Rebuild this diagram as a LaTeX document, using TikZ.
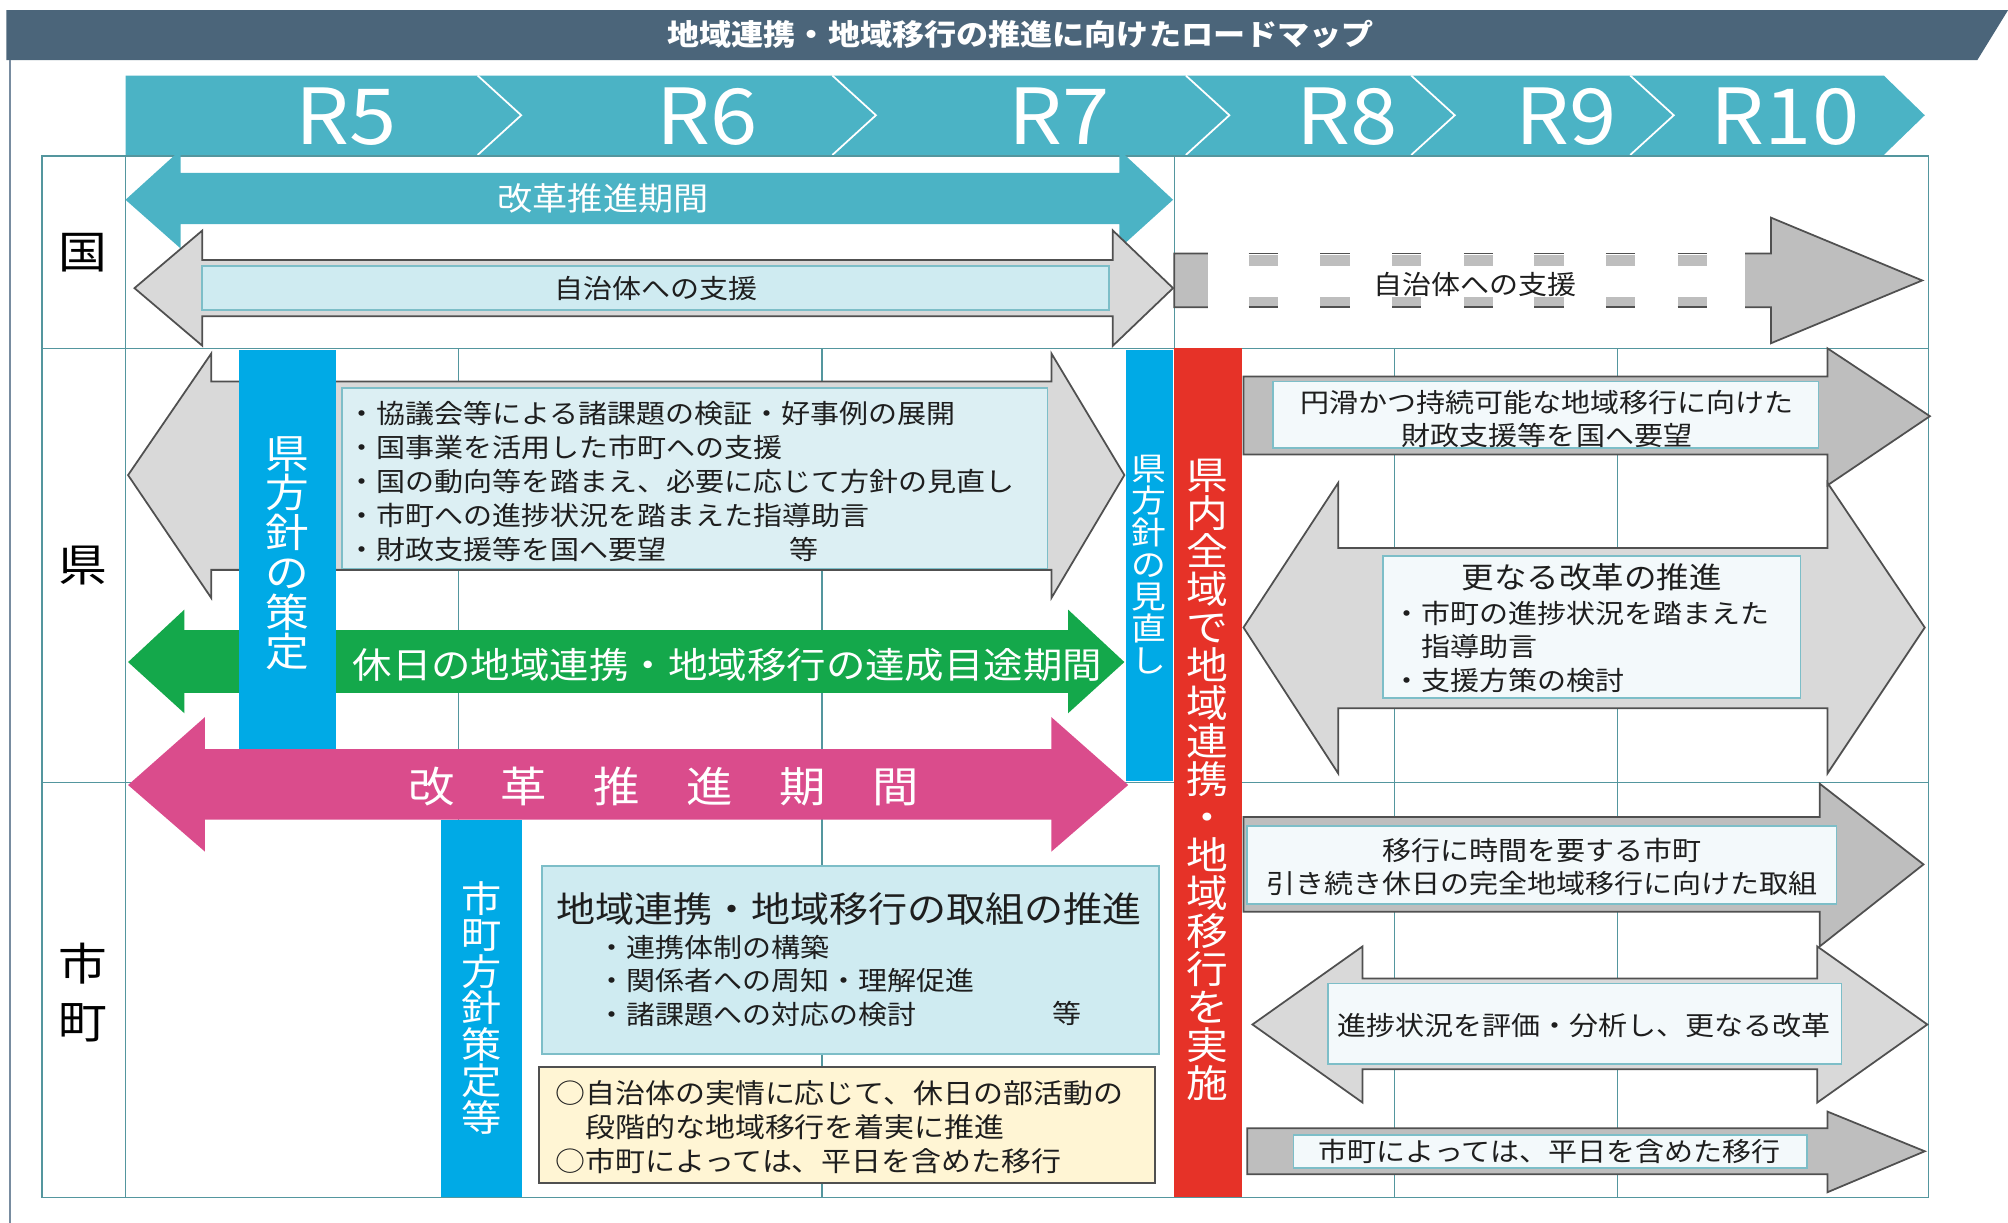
\documentclass[tikz,border=0pt]{standalone}
\usepackage{fontspec}
\setmainfont{Noto Sans CJK JP}[FakeStretch=1.1]
\usepackage{tikz}
\usetikzlibrary{positioning}

\definecolor{headc}{RGB}{75,101,122}
\definecolor{framec}{RGB}{120,140,160}
\definecolor{tealc}{RGB}{75,179,197}
\definecolor{gridc}{RGB}{84,150,158}
\definecolor{barblue}{RGB}{0,170,230}
\definecolor{barred}{RGB}{230,50,40}
\definecolor{arrgreen}{RGB}{20,168,75}
\definecolor{arrpink}{RGB}{218,76,140}
\definecolor{lgray}{RGB}{217,217,217}
\definecolor{mgray}{RGB}{190,190,190}
\definecolor{dgray}{RGB}{80,80,80}
\definecolor{boxblue}{RGB}{207,235,241}
\definecolor{boxblue2}{RGB}{220,239,243}
\definecolor{boxpale}{RGB}{243,249,251}
\definecolor{boxyellow}{RGB}{255,245,212}
\definecolor{boxline}{RGB}{125,190,200}
\definecolor{inkc}{RGB}{30,30,30}

\tikzstyle{gridline} = [draw=gridc, line width=0.45pt]
\tikzstyle{lightarrow} = [fill=lgray, draw=dgray, line width=0.5pt]
\tikzstyle{darkarrow} = [fill=mgray, draw=dgray, line width=0.5pt]
\tikzstyle{bluebox} = [fill=boxblue, draw=boxline, line width=0.5pt]
\tikzstyle{palebox} = [fill=boxpale, draw=boxline, line width=0.5pt]
\tikzstyle{yellowbox} = [fill=boxyellow, draw=dgray, line width=0.6pt]
\tikzstyle{bodytext} = [inner sep=0pt, text=inkc, font=\fontsize{7.5}{9.5}\selectfont]
\tikzstyle{whitetext} = [inner sep=0pt, text=white]
\tikzstyle{vlabel} = [inner sep=0pt, text=white, align=center]
\tikzstyle{yearlabel} = [inner sep=0pt, text=white, font=\fontsize{22}{22}\selectfont]
\tikzstyle{rowlabel} = [inner sep=0pt, text=black, font=\fontsize{12.6}{16.4}\selectfont]

\begin{document}
\begin{tikzpicture}[x=0.012806cm, y=-0.012806cm]

    \useasboundingbox (0,0) rectangle (1568,955);

    \fill [headc] (5,8) -- (1568,8) -- (1544,47) -- (5,47) -- cycle;
    \draw [framec, line width=0.5pt] (8,47) -- (8,955);
    \node (title) [whitetext, font=\fontsize{8.3}{10}\selectfont\bfseries] at (797,27) {地域連携・地域移行の推進に向けたロードマップ};

    \fill [tealc] (98,59) -- (1471,59) -- (1503,90) -- (1471,121) -- (98,121) -- cycle;
    \foreach \cx in {373,650,926,1102,1273}
        \draw [white, line width=0.5pt] (\cx,59) -- (\cx+34,90) -- (\cx,121);
    \node (r5) [yearlabel] at (270,91) {R5};
    \node (r6) [yearlabel] at (552,91) {R6};
    \node (r7) [yearlabel] at (827,91) {R7};
    \node (r8) [yearlabel] at (1052,91) {R8};
    \node (r9) [yearlabel] at (1223,91) {R9};
    \node (r10) [yearlabel] at (1394,91) {R10};

    \draw [gridline] (33,122) rectangle (1506,935);
    \draw [gridline] (33,272) -- (1506,272) (33,611) -- (1506,611);
    \draw [gridline] (98,122) -- (98,935) (917,122) -- (917,272);
    \foreach \gx in {358,642,1089,1263}
        \draw [gridline] (\gx,272) -- (\gx,935);

    \node (kuni) [rowlabel] at (65,197) {国};
    \node (ken) [rowlabel] at (65,442) {県};
    \node (shicho) [rowlabel, align=center] at (65,775) {市\\町};

    \fill [tealc] (98,156) -- (141,117) -- (141,135) -- (874,135) -- (874,117) -- (916,156) -- (874,194) -- (874,175) -- (141,175) -- (141,194) -- cycle;
    \node (kaikaku1) [whitetext, font=\fontsize{9.1}{10}\selectfont] at (471,155) {改革推進期間};

    \draw [lightarrow] (105,225) -- (158,180) -- (158,203) -- (869,203) -- (869,180) -- (916,225) -- (869,270) -- (869,247) -- (158,247) -- (158,270) -- cycle;
    \draw [bluebox] (158,208) rectangle (866,242);
    \node (shien1) [bodytext] at (512,225) {自治体への支援};

    \draw [darkarrow] (917,198) -- (1383,198) -- (1383,170) -- (1501,219) -- (1383,268) -- (1383,240) -- (917,240) -- cycle;
    \fill [white] (943,196) rectangle (1363,242);
    \foreach \dx in {975,1031,1087,1143,1198,1254,1310} {
        \fill [mgray] (\dx,199) rectangle (\dx+23,208);
        \fill [mgray] (\dx,232) rectangle (\dx+23,239.5);
        \draw [dgray, line width=0.5pt] (\dx,198) -- (\dx+23,198) (\dx,240) -- (\dx+23,240);
    }
    \node (shien2) [bodytext] at (1152,222) {自治体への支援};

    \draw [lightarrow] (100,371) -- (165,276) -- (165,298) -- (821,298) -- (821,276) -- (878,371) -- (821,467) -- (821,445) -- (165,445) -- (165,467) -- cycle;
    \draw [bluebox, fill=boxblue2] (267,303) rectangle (818,444);
    \node (kenlist) [bodytext, align=left, anchor=west, font=\fontsize{7.5}{9.7}\selectfont] at (271,376) {・協議会等による諸課題の検証・好事例の展開\\・国事業を活用した市町への支援\\・国の動向等を踏まえ、必要に応じて方針の見直し\\・市町への進捗状況を踏まえた指導助言\\・財政支援等を国へ要望};
    \node (kenetc) [bodytext] at (628,429) {等};

    \fill [arrgreen] (100,517) -- (144,476) -- (144,492) -- (834,492) -- (834,476) -- (878,517) -- (834,557) -- (834,541) -- (144,541) -- (144,557) -- cycle;
    \node (tasseikikan) [whitetext, font=\fontsize{10.2}{11}\selectfont] at (568,519) {休日の地域連携・地域移行の達成目途期間};

    \fill [arrpink] (100,613) -- (160,560) -- (160,585) -- (821,585) -- (821,560) -- (881,613) -- (821,665) -- (821,640) -- (160,640) -- (160,665) -- cycle;
    \node (kaikaku2) [whitetext, font=\fontsize{12}{13}\selectfont] at (518,614) {改　革　推　進　期　間};

    \fill [barblue] (187,273) rectangle (262,585);
    \node (kenhoshin) [vlabel, font=\fontsize{11.3}{11.3}\selectfont] at (224,432) {県\\方\\針\\の\\策\\定};
    \fill [barblue] (879,273) rectangle (916,610);
    \node (minaoshi) [vlabel, font=\fontsize{9}{9.07}\selectfont] at (897,441) {県\\方\\針\\の\\見\\直\\し};
    \fill [barred] (917,272) rectangle (970,935);
    \node (zeniki) [vlabel, font=\fontsize{10.8}{10.8}\selectfont] at (943,609) {県\\内\\全\\域\\で\\地\\域\\連\\携\\・\\地\\域\\移\\行\\を\\実\\施};
    \fill [barblue] (344,640) rectangle (408,935);
    \node (chohoshin) [vlabel, font=\fontsize{10.4}{10.4}\selectfont] at (376,787) {市\\町\\方\\針\\策\\定\\等};

    \draw [darkarrow] (971,294) -- (1427,294) -- (1427,272) -- (1507,325) -- (1427,379) -- (1427,355) -- (971,355) -- cycle;
    \draw [palebox] (994,298) rectangle (1420,350);
    \node (zaisei) [bodytext, align=center] at (1208,327) {円滑かつ持続可能な地域移行に向けた\\財政支援等を国へ要望};

    \draw [lightarrow] (971,490) -- (1045,377) -- (1045,428) -- (1427,428) -- (1427,377) -- (1503,490) -- (1427,604) -- (1427,553) -- (1045,553) -- (1045,604) -- cycle;
    \draw [palebox] (1080,434) rectangle (1406,545);
    \node (reformtitle) [bodytext, font=\fontsize{8.4}{9.5}\selectfont] at (1243,451) {更なる改革の推進};
    \node (reformlist) [bodytext, align=left, anchor=west] at (1087,505) {・市町の進捗状況を踏まえた\\　指導助言\\・支援方策の検討};

    \draw [bluebox] (423,676) rectangle (905,823);
    \node (kumititle) [bodytext, font=\fontsize{10.1}{12}\selectfont] at (663,710) {地域連携・地域移行の取組の推進};
    \node (kumilist) [bodytext, align=left, anchor=west] at (466,766) {・連携体制の構築\\・関係者への周知・理解促進\\・諸課題への対応の検討};
    \node (kumietc) [bodytext] at (833,791) {等};

    \draw [yellowbox] (421,833) rectangle (902,924);
    \node (jissai) [bodytext, align=left, anchor=west, font=\fontsize{7.75}{9.65}\selectfont] at (433,880) {○自治体の実情に応じて、休日の部活動の\\　段階的な地域移行を着実に推進\\○市町によっては、平日を含めた移行};

    \draw [darkarrow] (971,638) -- (1421,638) -- (1421,612) -- (1502,675) -- (1421,739) -- (1421,712) -- (971,712) -- cycle;
    \draw [palebox] (974,645) rectangle (1434,706);
    \node (jikan) [bodytext, align=center] at (1204,677) {移行に時間を要する市町\\引き続き休日の完全地域移行に向けた取組};

    \draw [lightarrow] (978,800) -- (1064,739) -- (1064,764) -- (1419,764) -- (1419,739) -- (1505,800) -- (1419,861) -- (1419,835) -- (1064,835) -- (1064,861) -- cycle;
    \draw [palebox] (1037,768) rectangle (1438,831);
    \node (hyoka) [bodytext] at (1237,801) {進捗状況を評価・分析し、更なる改革};

    \draw [darkarrow] (974,881) -- (1427,881) -- (1427,868) -- (1503,899) -- (1427,931) -- (1427,917) -- (974,917) -- cycle;
    \draw [palebox] (1010,886) rectangle (1411,912);
    \node (heijitsu) [bodytext] at (1210,899) {市町によっては、平日を含めた移行};

\end{tikzpicture}
\end{document}
